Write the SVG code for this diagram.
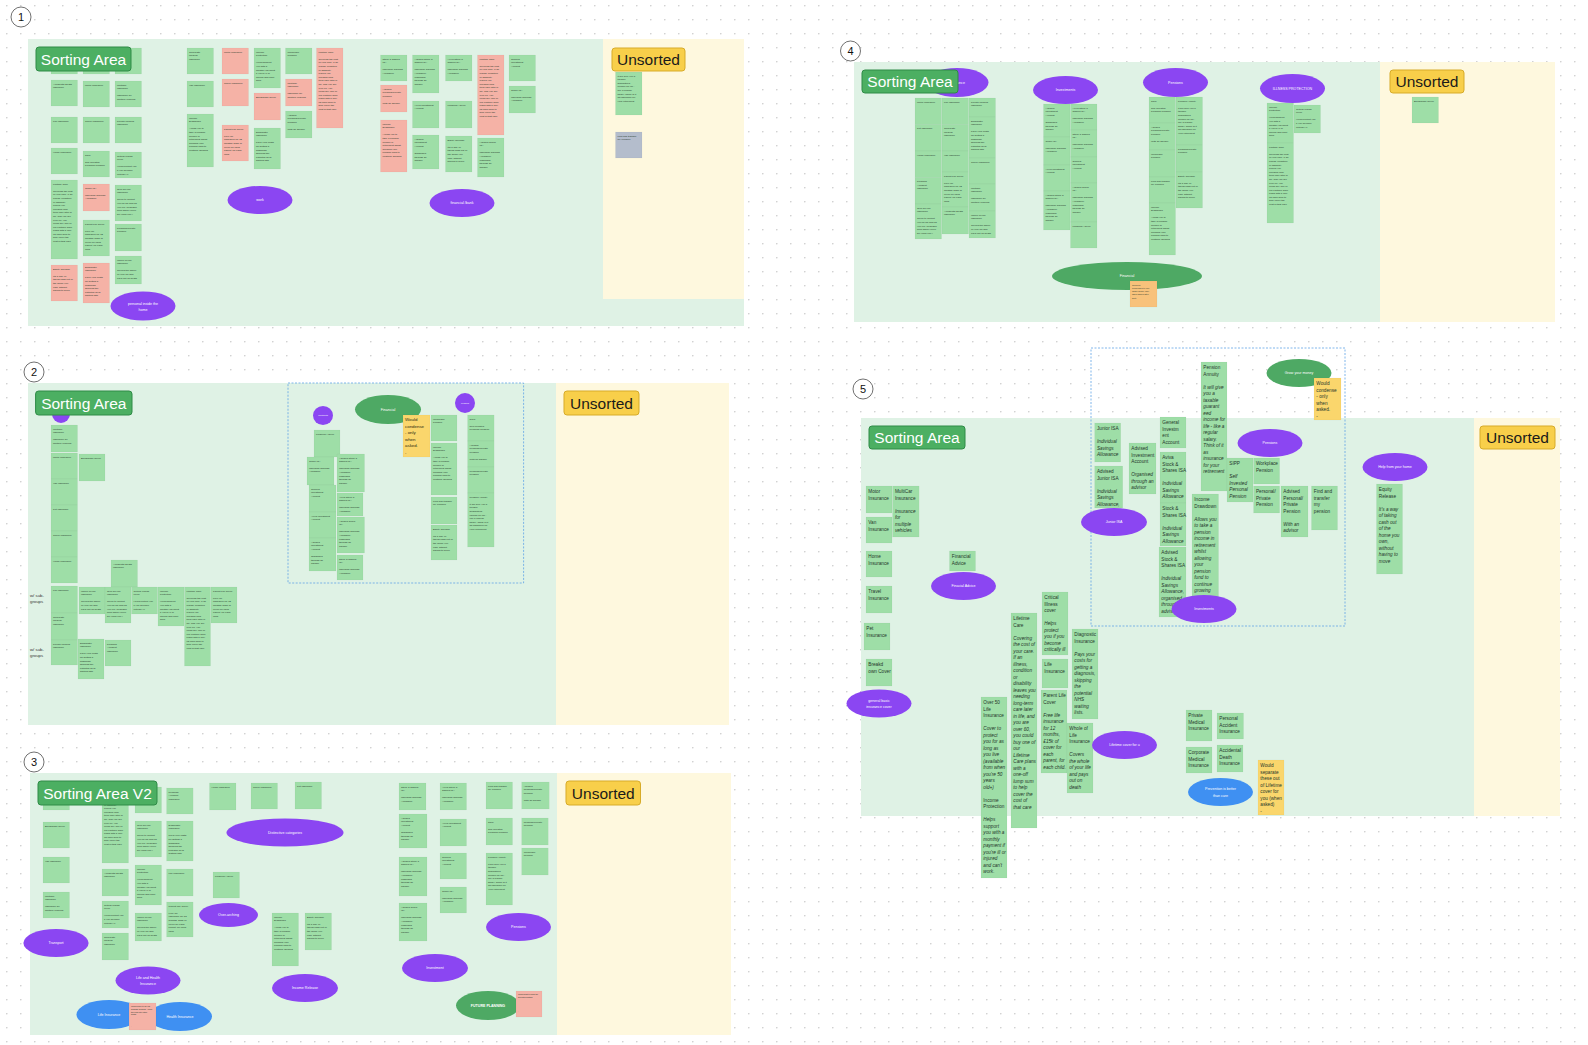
<svg xmlns="http://www.w3.org/2000/svg" width="1588" height="1045" viewBox="0 0 1588 1045">
<defs>
<pattern id="dots" x="6" y="5" width="14" height="14" patternUnits="userSpaceOnUse"><circle cx="0.8" cy="0.8" r="0.75" fill="#c4c4c4"/></pattern>
<style>
.bgG{fill:#dff2e5}.bgY{fill:#fef8de}
.n{fill:#9edea7}.p{fill:#f5b2a6}.yw{fill:#fad66c}.o{fill:#f8c27b}.gr{fill:#b4bdcc}
rect.n,rect.p,rect.yw,rect.o,rect.gr{stroke:#000;stroke-opacity:0.06;stroke-width:0.4}
.t{font-family:"Liberation Sans",Arial,sans-serif;font-size:2.5px;fill:#24352a}
.t5{font-family:"Liberation Sans",Arial,sans-serif;font-size:4.7px;fill:#24352a}
.ty{font-family:"Liberation Sans",Arial,sans-serif;font-size:4.4px;fill:#2a2a10}
.i{font-style:italic}
.pe{fill:#8b46f2}.be{fill:#3f90f2}.ge{fill:#4ea964}
.el{font-family:"Liberation Sans",Arial,sans-serif;font-size:3.6px;fill:#ffffff;text-anchor:middle}
.lab{fill:#4caf62;stroke:#2e8b46;stroke-width:1}
.uns{fill:#f8cf4a;stroke:#d7ab28;stroke-width:1}
.labt{font-family:"Liberation Sans",Arial,sans-serif;font-size:15.5px;fill:#ffffff;text-anchor:middle}
.unst{font-family:"Liberation Sans",Arial,sans-serif;font-size:15.5px;fill:#1a1a1a;text-anchor:middle}
.num circle{fill:#ffffff;stroke:#333333;stroke-width:0.7}
.num text{font-family:"Liberation Sans",Arial,sans-serif;font-size:11px;fill:#111111;text-anchor:middle}
.dash{fill:none;stroke:#5fa3e6;stroke-width:0.8;stroke-dasharray:2 1.5}
.sub{font-family:"Liberation Sans",Arial,sans-serif;font-size:4.3px;fill:#333333}
</style>
</defs>
<rect width="1588" height="1045" fill="#ffffff"/>
<rect width="1588" height="1045" fill="url(#dots)"/>
<g id="connectors"/>

<!-- ================= BOARD 1 ================= -->
<g id="board1">
<rect class="bgG" x="28" y="39" width="716" height="287"/>
<rect class="bgY" x="603" y="39" width="141" height="260"/>
<g class="num" id="b1-num"><circle cx="21" cy="17" r="10"/><text x="21" y="21">1</text></g>

<g id="b1-a1" transform="translate(51,48)"><rect class="n" width="26.5" height="26"/></g>
<g id="b1-a2" transform="translate(83,48)"><rect class="n" width="26.5" height="26"/></g>
<g id="b1-a3" transform="translate(115,48)"><rect class="n" width="26.5" height="26"/></g>
<g id="b1-a4" transform="translate(51,80)"><rect class="n" width="26.5" height="26"/><text class="t"><tspan x="2" y="4.5">Accidental Death</tspan><tspan x="2" dy="3.6">Insurance</tspan></text></g>
<g id="b1-a5" transform="translate(83,81)"><rect class="n" width="26.5" height="26"/><text class="t"><tspan x="2" y="4.5">Motor Insurance</tspan></text></g>
<g id="b1-a6" transform="translate(115,81)"><rect class="n" width="26.5" height="26"/><text class="t"><tspan x="2" y="4.5">MultiCar</tspan><tspan x="2" dy="3.6">Insurance</tspan><tspan x="2" dy="7.2">Insurance for</tspan><tspan x="2" dy="3.6">multiple vehicles</tspan></text></g>
<g id="b1-a7" transform="translate(51,117)"><rect class="n" width="26.5" height="26"/><text class="t"><tspan x="2" y="4.5">Life Insurance</tspan></text></g>
<g id="b1-a8" transform="translate(83,117)"><rect class="n" width="26.5" height="26"/><text class="t"><tspan x="2" y="4.5">Travel Insurance</tspan></text></g>
<g id="b1-a9" transform="translate(115,117)"><rect class="n" width="26.5" height="26"/><text class="t"><tspan x="2" y="4.5">Private Medical</tspan><tspan x="2" dy="3.6">Insurance</tspan></text></g>
<g id="b1-a10" transform="translate(51,148)"><rect class="n" width="26.5" height="26"/><text class="t"><tspan x="2" y="4.5">Home Insurance</tspan></text></g>
<g id="b1-a11" transform="translate(83,151)"><rect class="n" width="26.5" height="26"/><text class="t"><tspan x="2" y="4.5">SIPP</tspan><tspan x="2" dy="7.2">Self Invested</tspan><tspan x="2" dy="3.6">Personal Pension</tspan></text></g>
<g id="b1-a12" transform="translate(115,152)"><rect class="n" width="26.5" height="26"/><text class="t"><tspan x="2" y="4.5">Critical Illness</tspan><tspan x="2" dy="3.6">cover</tspan><tspan x="2" dy="7.2">Helps protect you</tspan><tspan x="2" dy="3.6">if you become</tspan><tspan x="2" dy="3.6">critically ill</tspan></text></g>
<g id="b1-a13" transform="translate(51,180)"><rect class="n" width="26.5" height="79"/><text class="t"><tspan x="2" y="4.5">Lifetime Care</tspan><tspan x="2" dy="7.2">Covering the cost</tspan><tspan x="2" dy="3.6">of your care. If an</tspan><tspan x="2" dy="3.6">illness, condition</tspan><tspan x="2" dy="3.6">or disability</tspan><tspan x="2" dy="3.6">leaves you</tspan><tspan x="2" dy="3.6">needing long-</tspan><tspan x="2" dy="3.6">term care later in</tspan><tspan x="2" dy="3.6">life, and you are</tspan><tspan x="2" dy="3.6">over 60, you</tspan><tspan x="2" dy="3.6">could buy one of</tspan><tspan x="2" dy="3.6">our Lifetime Care</tspan><tspan x="2" dy="3.6">plans with a one-</tspan><tspan x="2" dy="3.6">off lump sum to</tspan><tspan x="2" dy="3.6">help cover the</tspan><tspan x="2" dy="3.6">cost of that care</tspan></text></g>
<g id="b1-a14" transform="translate(83,184)"><rect class="p" width="26.5" height="27"/><text class="t"><tspan x="2" y="4.5">Junior ISA</tspan><tspan x="2" dy="7.2">Individual Savings</tspan><tspan x="2" dy="3.6">Allowance</tspan></text></g>
<g id="b1-a15" transform="translate(115,185)"><rect class="n" width="26.5" height="36"/><text class="t"><tspan x="2" y="4.5">Over 50 Life</tspan><tspan x="2" dy="3.6">Insurance</tspan><tspan x="2" dy="7.2">Cover to protect</tspan><tspan x="2" dy="3.6">you for as long as</tspan><tspan x="2" dy="3.6">you live (available</tspan><tspan x="2" dy="3.6">from when you're</tspan><tspan x="2" dy="3.6">50 years old+)</tspan></text></g>
<g id="b1-a16" transform="translate(83,220)"><rect class="n" width="26.5" height="36"/><text class="t"><tspan x="2" y="4.5">Parent Life Cover</tspan><tspan x="2" dy="7.2">Free life</tspan><tspan x="2" dy="3.6">insurance for 12</tspan><tspan x="2" dy="3.6">months, £15k of</tspan><tspan x="2" dy="3.6">cover for each</tspan><tspan x="2" dy="3.6">parent, for each</tspan><tspan x="2" dy="3.6">child</tspan></text></g>
<g id="b1-a17" transform="translate(115,224)"><rect class="n" width="26.5" height="27"/><text class="t"><tspan x="2" y="4.5">Personal/Private</tspan><tspan x="2" dy="3.6">Pension</tspan></text></g>
<g id="b1-a18" transform="translate(115,256)"><rect class="n" width="26.5" height="28"/><text class="t"><tspan x="2" y="4.5">Whole of Life</tspan><tspan x="2" dy="3.6">Insurance</tspan><tspan x="2" dy="7.2">Covers the whole</tspan><tspan x="2" dy="3.6">of your life and</tspan><tspan x="2" dy="3.6">pays out on death</tspan></text></g>
<g id="b1-a19" transform="translate(51,265)"><rect class="p" width="26.5" height="36"/><text class="t"><tspan x="2" y="4.5">Equity Release</tspan><tspan x="2" dy="7.2">It's a way of</tspan><tspan x="2" dy="3.6">taking cash out of</tspan><tspan x="2" dy="3.6">the home you</tspan><tspan x="2" dy="3.6">own, without</tspan><tspan x="2" dy="3.6">having to move</tspan></text></g>
<g id="b1-a20" transform="translate(83,263)"><rect class="p" width="26.5" height="40"/><text class="t"><tspan x="2" y="4.5">Diagnostic</tspan><tspan x="2" dy="3.6">Insurance</tspan><tspan x="2" dy="7.2">Pays your costs</tspan><tspan x="2" dy="3.6">for getting a</tspan><tspan x="2" dy="3.6">diagnosis,</tspan><tspan x="2" dy="3.6">skipping the</tspan><tspan x="2" dy="3.6">potential NHS</tspan><tspan x="2" dy="3.6">waiting lists.</tspan></text></g>

<g id="b1-b1" transform="translate(187,48)"><rect class="n" width="26.5" height="26"/><text class="t"><tspan x="2" y="4.5">Corporate</tspan><tspan x="2" dy="3.6">Medical</tspan><tspan x="2" dy="3.6">Insurance</tspan></text></g>
<g id="b1-b2" transform="translate(187,81)"><rect class="n" width="26.5" height="26"/><text class="t"><tspan x="2" y="4.5">Van Insurance</tspan></text></g>
<g id="b1-b3" transform="translate(187,114)"><rect class="n" width="26.5" height="53"/><text class="t"><tspan x="2" y="4.5">Income</tspan><tspan x="2" dy="3.6">Drawdown</tspan><tspan x="2" dy="7.2">Allows you to</tspan><tspan x="2" dy="3.6">take a pension</tspan><tspan x="2" dy="3.6">income in</tspan><tspan x="2" dy="3.6">retirement whilst</tspan><tspan x="2" dy="3.6">allowing your</tspan><tspan x="2" dy="3.6">pension fund to</tspan><tspan x="2" dy="3.6">continue growing</tspan></text></g>
<g id="b1-b4" transform="translate(222,48)"><rect class="p" width="26.5" height="26"/><text class="t"><tspan x="2" y="4.5">Motor Insurance</tspan></text></g>
<g id="b1-b5" transform="translate(222,79)"><rect class="p" width="26.5" height="27"/><text class="t"><tspan x="2" y="4.5">Travel Insurance</tspan></text></g>
<g id="b1-b6" transform="translate(222,125)"><rect class="p" width="26.5" height="36"/><text class="t"><tspan x="2" y="4.5">Parent Life Cover</tspan><tspan x="2" dy="7.2">Free life</tspan><tspan x="2" dy="3.6">insurance for 12</tspan><tspan x="2" dy="3.6">months, £15k of</tspan><tspan x="2" dy="3.6">cover for each</tspan><tspan x="2" dy="3.6">parent, for each</tspan><tspan x="2" dy="3.6">child</tspan></text></g>
<g id="b1-b7" transform="translate(254,48)"><rect class="n" width="26.5" height="40"/><text class="t"><tspan x="2" y="4.5">Income</tspan><tspan x="2" dy="3.6">Protection</tspan><tspan x="2" dy="7.2">Helps support</tspan><tspan x="2" dy="3.6">you with a</tspan><tspan x="2" dy="3.6">monthly payment</tspan><tspan x="2" dy="3.6">if you're ill or</tspan><tspan x="2" dy="3.6">injured and can't</tspan><tspan x="2" dy="3.6">work</tspan></text></g>
<g id="b1-b8" transform="translate(254,93)"><rect class="p" width="26.5" height="27"/><text class="t"><tspan x="2" y="4.5">Breakdown Cover</tspan></text></g>
<g id="b1-b9" transform="translate(254,128)"><rect class="n" width="26.5" height="41"/><text class="t"><tspan x="2" y="4.5">Diagnostic</tspan><tspan x="2" dy="3.6">Insurance</tspan><tspan x="2" dy="7.2">Pays your costs</tspan><tspan x="2" dy="3.6">for getting a</tspan><tspan x="2" dy="3.6">diagnosis,</tspan><tspan x="2" dy="3.6">skipping the</tspan><tspan x="2" dy="3.6">potential NHS</tspan><tspan x="2" dy="3.6">waiting lists</tspan></text></g>
<g id="b1-b10" transform="translate(285.5,48)"><rect class="n" width="26.5" height="26"/><text class="t"><tspan x="2" y="4.5">Workplace</tspan><tspan x="2" dy="3.6">Pension</tspan></text></g>
<g id="b1-b11" transform="translate(285.5,79)"><rect class="p" width="26.5" height="27"/><text class="t"><tspan x="2" y="4.5">MultiCar</tspan><tspan x="2" dy="3.6">Insurance</tspan><tspan x="2" dy="7.2">Insurance for</tspan><tspan x="2" dy="3.6">multiple vehicles</tspan></text></g>
<g id="b1-b12" transform="translate(285.5,111)"><rect class="n" width="26.5" height="27"/><text class="t"><tspan x="2" y="4.5">Advised</tspan><tspan x="2" dy="3.6">Personal/Private</tspan><tspan x="2" dy="3.6">Pension</tspan><tspan x="2" dy="7.2">With an advisor</tspan></text></g>
<g id="b1-b13" transform="translate(316.5,48)"><rect class="p" width="26.5" height="80"/><text class="t"><tspan x="2" y="4.5">Lifetime Care</tspan><tspan x="2" dy="7.2">Covering the cost</tspan><tspan x="2" dy="3.6">of your care. If an</tspan><tspan x="2" dy="3.6">illness, condition</tspan><tspan x="2" dy="3.6">or disability</tspan><tspan x="2" dy="3.6">leaves you</tspan><tspan x="2" dy="3.6">needing long-</tspan><tspan x="2" dy="3.6">term care later in</tspan><tspan x="2" dy="3.6">life, and you are</tspan><tspan x="2" dy="3.6">over 60, you</tspan><tspan x="2" dy="3.6">could buy one of</tspan><tspan x="2" dy="3.6">our Lifetime Care</tspan><tspan x="2" dy="3.6">plans with a one-</tspan><tspan x="2" dy="3.6">off lump sum to</tspan><tspan x="2" dy="3.6">help cover the</tspan><tspan x="2" dy="3.6">cost of that care</tspan></text></g>

<g id="b1-c1" transform="translate(380.5,55)"><rect class="n" width="26.5" height="26"/><text class="t"><tspan x="2" y="4.5">Stock &amp; Shares</tspan><tspan x="2" dy="3.6">ISA</tspan><tspan x="2" dy="7.2">Individual Savings</tspan><tspan x="2" dy="3.6">Allowance</tspan></text></g>
<g id="b1-c2" transform="translate(380.5,85)"><rect class="p" width="26.5" height="27"/><text class="t"><tspan x="2" y="4.5">Advised</tspan><tspan x="2" dy="3.6">Personal/Private</tspan><tspan x="2" dy="3.6">Pension</tspan><tspan x="2" dy="7.2">With an advisor</tspan></text></g>
<g id="b1-c3" transform="translate(380.5,120)"><rect class="p" width="26.5" height="52"/><text class="t"><tspan x="2" y="4.5">Income</tspan><tspan x="2" dy="3.6">Drawdown</tspan><tspan x="2" dy="7.2">Allows you to</tspan><tspan x="2" dy="3.6">take a pension</tspan><tspan x="2" dy="3.6">income in</tspan><tspan x="2" dy="3.6">retirement whilst</tspan><tspan x="2" dy="3.6">allowing your</tspan><tspan x="2" dy="3.6">pension fund to</tspan><tspan x="2" dy="3.6">continue growing</tspan></text></g>
<g id="b1-c4" transform="translate(412.5,55)"><rect class="n" width="26.5" height="38"/><text class="t"><tspan x="2" y="4.5">Advised Stock &amp;</tspan><tspan x="2" dy="3.6">Shares ISA</tspan><tspan x="2" dy="7.2">Individual Savings</tspan><tspan x="2" dy="3.6">Allowance,</tspan><tspan x="2" dy="3.6">organised</tspan><tspan x="2" dy="3.6">through an</tspan><tspan x="2" dy="3.6">advisor</tspan></text></g>
<g id="b1-c5" transform="translate(412.5,101)"><rect class="n" width="26.5" height="27"/><text class="t"><tspan x="2" y="4.5">Aviva Investment</tspan><tspan x="2" dy="3.6">Account</tspan></text></g>
<g id="b1-c6" transform="translate(412.5,135)"><rect class="n" width="26.5" height="34"/><text class="t"><tspan x="2" y="4.5">Advised</tspan><tspan x="2" dy="3.6">Investment</tspan><tspan x="2" dy="3.6">Account</tspan><tspan x="2" dy="7.2">Organised</tspan><tspan x="2" dy="3.6">through an</tspan><tspan x="2" dy="3.6">advisor</tspan></text></g>
<g id="b1-c7" transform="translate(445.5,55)"><rect class="n" width="26.5" height="26"/><text class="t"><tspan x="2" y="4.5">Aviva Stock &amp;</tspan><tspan x="2" dy="3.6">Shares ISA</tspan><tspan x="2" dy="7.2">Individual Savings</tspan><tspan x="2" dy="3.6">Allowance</tspan></text></g>
<g id="b1-c8" transform="translate(445.5,101)"><rect class="n" width="26.5" height="27"/><text class="t"><tspan x="2" y="4.5">Financial Advice</tspan></text></g>
<g id="b1-c9" transform="translate(445.5,136)"><rect class="n" width="26.5" height="36"/><text class="t"><tspan x="2" y="4.5">Equity Release</tspan><tspan x="2" dy="7.2">It's a way of</tspan><tspan x="2" dy="3.6">taking cash out of</tspan><tspan x="2" dy="3.6">the home you</tspan><tspan x="2" dy="3.6">own, without</tspan><tspan x="2" dy="3.6">having to move</tspan></text></g>
<g id="b1-c10" transform="translate(477.5,55)"><rect class="p" width="26.5" height="80"/><text class="t"><tspan x="2" y="4.5">Lifetime Care</tspan><tspan x="2" dy="7.2">Covering the cost</tspan><tspan x="2" dy="3.6">of your care. If an</tspan><tspan x="2" dy="3.6">illness, condition</tspan><tspan x="2" dy="3.6">or disability</tspan><tspan x="2" dy="3.6">leaves you</tspan><tspan x="2" dy="3.6">needing long-</tspan><tspan x="2" dy="3.6">term care later in</tspan><tspan x="2" dy="3.6">life, and you are</tspan><tspan x="2" dy="3.6">over 60, you</tspan><tspan x="2" dy="3.6">could buy one of</tspan><tspan x="2" dy="3.6">our Lifetime Care</tspan><tspan x="2" dy="3.6">plans with a one-</tspan><tspan x="2" dy="3.6">off lump sum to</tspan><tspan x="2" dy="3.6">help cover the</tspan><tspan x="2" dy="3.6">cost of that care</tspan></text></g>
<g id="b1-c11" transform="translate(477.5,138)"><rect class="n" width="26.5" height="39"/><text class="t"><tspan x="2" y="4.5">Advised Junior</tspan><tspan x="2" dy="3.6">ISA</tspan><tspan x="2" dy="7.2">Individual Savings</tspan><tspan x="2" dy="3.6">Allowance,</tspan><tspan x="2" dy="3.6">organised</tspan><tspan x="2" dy="3.6">through an</tspan><tspan x="2" dy="3.6">advisor</tspan></text></g>
<g id="b1-c12" transform="translate(509,55)"><rect class="n" width="26.5" height="26"/><text class="t"><tspan x="2" y="4.5">General</tspan><tspan x="2" dy="3.6">Investment</tspan><tspan x="2" dy="3.6">Account</tspan></text></g>
<g id="b1-c13" transform="translate(509,86)"><rect class="n" width="26.5" height="27"/><text class="t"><tspan x="2" y="4.5">Junior ISA</tspan><tspan x="2" dy="7.2">Individual Savings</tspan><tspan x="2" dy="3.6">Allowance</tspan></text></g>

<g id="b1-u1" transform="translate(615.5,72)"><rect class="n" width="26.5" height="43"/><text class="t"><tspan x="2" y="4.5">It will give you a</tspan><tspan x="2" dy="3.6">taxable</tspan><tspan x="2" dy="3.6">guaranteed</tspan><tspan x="2" dy="3.6">income for life -</tspan><tspan x="2" dy="3.6">like a regular</tspan><tspan x="2" dy="3.6">salary. Think of it</tspan><tspan x="2" dy="3.6">as insurance for</tspan><tspan x="2" dy="3.6">your retirement</tspan></text></g>
<g id="b1-u2" transform="translate(615.5,132)"><rect class="gr" width="26.5" height="26"/><text class="t"><tspan x="2" y="4.5">Find and transfer</tspan><tspan x="2" dy="3.6">my pension</tspan></text></g>

<g id="b1-e1"><ellipse class="pe" cx="260" cy="200" rx="32.5" ry="14"/><text class="el" x="260" y="201.3">work</text></g>
<g id="b1-e2"><ellipse class="pe" cx="462" cy="203" rx="32.5" ry="14"/><text class="el" x="462" y="204.3">financial /bank</text></g>
<g id="b1-e3"><ellipse class="pe" cx="143" cy="306" rx="32.5" ry="14.5"/><text class="el" x="143" y="304.5">personal inside the</text><text class="el" x="143" y="310.5">home</text></g>

<g id="b1-label"><rect class="lab" x="36" y="47" width="95" height="24" rx="3"/><text class="labt" x="83.5" y="64.5">Sorting Area</text></g>
<g id="b1-unsorted"><rect class="uns" x="612" y="48" width="73" height="23" rx="3"/><text class="unst" x="648.5" y="65">Unsorted</text></g>
</g>

<!-- ================= BOARD 2 ================= -->
<g id="board2">
<rect class="bgG" x="28" y="383" width="528" height="342"/>
<rect class="bgY" x="556" y="383" width="173" height="342"/>
<g class="num" id="b2-num"><circle cx="34" cy="372" r="10"/><text x="34" y="376">2</text></g>
<rect class="dash" x="288" y="383" width="235.6" height="200"/>
<g id="b2-e0"><ellipse class="pe" cx="61" cy="414" rx="9" ry="9"/></g>
<g id="b2-a1" transform="translate(51,425)"><rect class="n" width="26.5" height="27"/><text class="t"><tspan x="2" y="4.5">MultiCar</tspan><tspan x="2" dy="3.6">Insurance</tspan><tspan x="2" dy="7.2">Insurance for</tspan><tspan x="2" dy="3.6">multiple vehicles</tspan></text></g>
<g id="b2-a2" transform="translate(51,453)"><rect class="n" width="26.5" height="26"/><text class="t"><tspan x="2" y="4.5">Motor Insurance</tspan></text></g>
<g id="b2-a3" transform="translate(51,479)"><rect class="n" width="26.5" height="26"/><text class="t"><tspan x="2" y="4.5">Van Insurance</tspan></text></g>
<g id="b2-a4" transform="translate(51,505)"><rect class="n" width="26.5" height="26"/><text class="t"><tspan x="2" y="4.5">Pet Insurance</tspan></text></g>
<g id="b2-a5" transform="translate(51,531)"><rect class="n" width="26.5" height="26"/><text class="t"><tspan x="2" y="4.5">Travel Insurance</tspan></text></g>
<g id="b2-a6" transform="translate(51,557)"><rect class="n" width="26.5" height="26"/><text class="t"><tspan x="2" y="4.5">Home Insurance</tspan></text></g>
<g id="b2-a7" transform="translate(79,454)"><rect class="n" width="26" height="27"/><text class="t"><tspan x="2" y="4.5">Breakdown Cover</tspan></text></g>
<g id="b2-a8" transform="translate(111,560)"><rect class="n" width="26.5" height="27"/><text class="t"><tspan x="2" y="4.5">Accidental Death</tspan><tspan x="2" dy="3.6">Insurance</tspan></text></g>
<g id="b2-a9" transform="translate(51,586)"><rect class="n" width="26.5" height="27"/><text class="t"><tspan x="2" y="4.5">Life Insurance</tspan></text></g>
<g id="b2-a10" transform="translate(51,613)"><rect class="n" width="26.5" height="27"/><text class="t"><tspan x="2" y="4.5">Corporate</tspan><tspan x="2" dy="3.6">Medical</tspan><tspan x="2" dy="3.6">Insurance</tspan></text></g>
<g id="b2-a11" transform="translate(51,640)"><rect class="n" width="26.5" height="25"/><text class="t"><tspan x="2" y="4.5">Private Medical</tspan><tspan x="2" dy="3.6">Insurance</tspan></text></g>
<g id="b2-a12" transform="translate(79,587)"><rect class="n" width="26" height="27"/><text class="t"><tspan x="2" y="4.5">Whole of Life</tspan><tspan x="2" dy="3.6">Insurance</tspan><tspan x="2" dy="7.2">Covers the whole</tspan><tspan x="2" dy="3.6">of your life and</tspan><tspan x="2" dy="3.6">pays out on death</tspan></text></g>
<g id="b2-a13" transform="translate(105,587)"><rect class="n" width="26" height="36"/><text class="t"><tspan x="2" y="4.5">Over 50 Life</tspan><tspan x="2" dy="3.6">Insurance</tspan><tspan x="2" dy="7.2">Cover to protect</tspan><tspan x="2" dy="3.6">you for as long as</tspan><tspan x="2" dy="3.6">you live (available</tspan><tspan x="2" dy="3.6">from when you're</tspan><tspan x="2" dy="3.6">50 years old+)</tspan></text></g>
<g id="b2-a14" transform="translate(131.5,587)"><rect class="n" width="26" height="27"/><text class="t"><tspan x="2" y="4.5">Critical Illness</tspan><tspan x="2" dy="3.6">cover</tspan><tspan x="2" dy="7.2">Helps protect you</tspan><tspan x="2" dy="3.6">if you become</tspan><tspan x="2" dy="3.6">critically ill</tspan></text></g>
<g id="b2-a15" transform="translate(158,587)"><rect class="n" width="26" height="39"/><text class="t"><tspan x="2" y="4.5">Income</tspan><tspan x="2" dy="3.6">Protection</tspan><tspan x="2" dy="7.2">Helps support</tspan><tspan x="2" dy="3.6">you with a</tspan><tspan x="2" dy="3.6">monthly payment</tspan><tspan x="2" dy="3.6">if you're ill or</tspan><tspan x="2" dy="3.6">injured and can't</tspan><tspan x="2" dy="3.6">work</tspan></text></g>
<g id="b2-a16" transform="translate(184.5,587)"><rect class="n" width="26" height="79"/><text class="t"><tspan x="2" y="4.5">Lifetime Care</tspan><tspan x="2" dy="7.2">Covering the cost</tspan><tspan x="2" dy="3.6">of your care. If an</tspan><tspan x="2" dy="3.6">illness, condition</tspan><tspan x="2" dy="3.6">or disability</tspan><tspan x="2" dy="3.6">leaves you</tspan><tspan x="2" dy="3.6">needing long-</tspan><tspan x="2" dy="3.6">term care later in</tspan><tspan x="2" dy="3.6">life, and you are</tspan><tspan x="2" dy="3.6">over 60, you</tspan><tspan x="2" dy="3.6">could buy one of</tspan><tspan x="2" dy="3.6">our Lifetime Care</tspan><tspan x="2" dy="3.6">plans with a one-</tspan><tspan x="2" dy="3.6">off lump sum to</tspan><tspan x="2" dy="3.6">help cover the</tspan><tspan x="2" dy="3.6">cost of that care</tspan></text></g>
<g id="b2-a17" transform="translate(211,587)"><rect class="n" width="26" height="36"/><text class="t"><tspan x="2" y="4.5">Parent Life Cover</tspan><tspan x="2" dy="7.2">Free life</tspan><tspan x="2" dy="3.6">insurance for 12</tspan><tspan x="2" dy="3.6">months, £15k of</tspan><tspan x="2" dy="3.6">cover for each</tspan><tspan x="2" dy="3.6">parent, for each</tspan><tspan x="2" dy="3.6">child</tspan></text></g>
<g id="b2-a18" transform="translate(78,639)"><rect class="n" width="26" height="40"/><text class="t"><tspan x="2" y="4.5">Diagnostic</tspan><tspan x="2" dy="3.6">Insurance</tspan><tspan x="2" dy="7.2">Pays your costs</tspan><tspan x="2" dy="3.6">for getting a</tspan><tspan x="2" dy="3.6">diagnosis,</tspan><tspan x="2" dy="3.6">skipping the</tspan><tspan x="2" dy="3.6">potential NHS</tspan><tspan x="2" dy="3.6">waiting lists.</tspan></text></g>
<g id="b2-a19" transform="translate(105,640)"><rect class="n" width="26" height="26"/><text class="t"><tspan x="2" y="4.5">Personal</tspan><tspan x="2" dy="3.6">Accident</tspan><tspan x="2" dy="3.6">Insurance</tspan></text></g>
<g id="b2-sub1"><text class="sub"><tspan x="30" y="597">w/ sub-</tspan><tspan x="30" y="603">groups</tspan></text></g>
<g id="b2-sub2"><text class="sub"><tspan x="30" y="650.5">w/ sub-</tspan><tspan x="30" y="656.5">groups</tspan></text></g>

<g id="b2-e1"><ellipse class="pe" cx="323" cy="415.5" rx="10" ry="9.5"/><text class="el" style="font-size:1.8px" x="323" y="416.2">Investments</text></g>
<g id="b2-e2"><ellipse class="ge" cx="388" cy="409.5" rx="33" ry="14.5"/><text class="el" x="388" y="410.8">Financial</text></g>
<g id="b2-e3"><ellipse class="pe" cx="465" cy="403" rx="10" ry="10"/><text class="el" style="font-size:1.9px" x="465" y="403.7">Pensions</text></g>
<g id="b2-y1" transform="translate(403,415)"><rect class="yw" width="27" height="42"/><text class="ty"><tspan x="2" y="6">Would</tspan><tspan x="2" dy="6.6">condense</tspan><tspan x="2" dy="6.6">- only</tspan><tspan x="2" dy="6.6">when</tspan><tspan x="2" dy="6.6">asked.</tspan><tspan x="2" dy="6.6">-</tspan></text></g>
<g id="b2-c1" transform="translate(431,415)"><rect class="n" width="26" height="26"/><text class="t"><tspan x="2" y="4.5">Workplace</tspan><tspan x="2" dy="3.6">Pension</tspan></text></g>
<g id="b2-c2" transform="translate(431,443)"><rect class="n" width="26" height="52"/><text class="t"><tspan x="2" y="4.5">Income</tspan><tspan x="2" dy="3.6">Drawdown</tspan><tspan x="2" dy="7.2">Allows you to</tspan><tspan x="2" dy="3.6">take a pension</tspan><tspan x="2" dy="3.6">income in</tspan><tspan x="2" dy="3.6">retirement whilst</tspan><tspan x="2" dy="3.6">allowing your</tspan><tspan x="2" dy="3.6">pension fund to</tspan><tspan x="2" dy="3.6">continue growing</tspan></text></g>
<g id="b2-c3" transform="translate(431,497)"><rect class="n" width="26" height="27"/><text class="t"><tspan x="2" y="4.5">Find and transfer</tspan><tspan x="2" dy="3.6">my pension</tspan></text></g>
<g id="b2-c4" transform="translate(431,525)"><rect class="n" width="26" height="35"/><text class="t"><tspan x="2" y="4.5">Equity Release</tspan><tspan x="2" dy="7.2">It's a way of</tspan><tspan x="2" dy="3.6">taking cash out of</tspan><tspan x="2" dy="3.6">the home you</tspan><tspan x="2" dy="3.6">own, without</tspan><tspan x="2" dy="3.6">having to move</tspan></text></g>
<g id="b2-d1" transform="translate(467.6,415)"><rect class="n" width="26.5" height="26"/><text class="t"><tspan x="2" y="4.5">SIPP</tspan><tspan x="2" dy="7.2">Self Invested</tspan><tspan x="2" dy="3.6">Personal Pension</tspan></text></g>
<g id="b2-d2" transform="translate(467.6,441)"><rect class="n" width="26.5" height="26"/><text class="t"><tspan x="2" y="4.5">Advised</tspan><tspan x="2" dy="3.6">Personal/Private</tspan><tspan x="2" dy="3.6">Pension</tspan><tspan x="2" dy="7.2">With an advisor</tspan></text></g>
<g id="b2-d3" transform="translate(467.6,467)"><rect class="n" width="26.5" height="26"/><text class="t"><tspan x="2" y="4.5">Personal/Private</tspan><tspan x="2" dy="3.6">Pension</tspan></text></g>
<g id="b2-d4" transform="translate(467.6,493)"><rect class="n" width="26.5" height="54"/><text class="t"><tspan x="2" y="4.5">Pension Annuity</tspan><tspan x="2" dy="7.2">It will give you a</tspan><tspan x="2" dy="3.6">taxable</tspan><tspan x="2" dy="3.6">guaranteed</tspan><tspan x="2" dy="3.6">income for life -</tspan><tspan x="2" dy="3.6">like a regular</tspan><tspan x="2" dy="3.6">salary. Think of it</tspan><tspan x="2" dy="3.6">as insurance for</tspan><tspan x="2" dy="3.6">your retirement</tspan></text></g>
<g id="b2-f1" transform="translate(314,430)"><rect class="n" width="26" height="27"/><text class="t"><tspan x="2" y="4.5">Financial Advice</tspan></text></g>
<g id="b2-f2" transform="translate(307,457)"><rect class="n" width="27" height="28"/><text class="t"><tspan x="2" y="4.5">Junior ISA</tspan><tspan x="2" dy="7.2">Individual Savings</tspan><tspan x="2" dy="3.6">Allowance</tspan></text></g>
<g id="b2-f3" transform="translate(309,485)"><rect class="n" width="27" height="27"/><text class="t"><tspan x="2" y="4.5">General</tspan><tspan x="2" dy="3.6">Investment</tspan><tspan x="2" dy="3.6">Account</tspan></text></g>
<g id="b2-f4" transform="translate(309,512)"><rect class="n" width="27" height="26"/><text class="t"><tspan x="2" y="4.5">Aviva Investment</tspan><tspan x="2" dy="3.6">Account</tspan></text></g>
<g id="b2-f5" transform="translate(309,538)"><rect class="n" width="27" height="33"/><text class="t"><tspan x="2" y="4.5">Advised</tspan><tspan x="2" dy="3.6">Investment</tspan><tspan x="2" dy="3.6">Account</tspan><tspan x="2" dy="7.2">Organised</tspan><tspan x="2" dy="3.6">through an</tspan><tspan x="2" dy="3.6">advisor</tspan></text></g>
<g id="b2-g1" transform="translate(337,454)"><rect class="n" width="27.5" height="38"/><text class="t"><tspan x="2" y="4.5">Advised Stock &amp;</tspan><tspan x="2" dy="3.6">Shares ISA</tspan><tspan x="2" dy="7.2">Individual Savings</tspan><tspan x="2" dy="3.6">Allowance</tspan><tspan x="2" dy="3.6">organised</tspan><tspan x="2" dy="3.6">through an</tspan><tspan x="2" dy="3.6">advisor</tspan></text></g>
<g id="b2-g2" transform="translate(337,493)"><rect class="n" width="26" height="23"/><text class="t"><tspan x="2" y="4.5">Aviva Stock &amp;</tspan><tspan x="2" dy="3.6">Shares ISA</tspan><tspan x="2" dy="7.2">Individual Savings</tspan><tspan x="2" dy="3.6">Allowance</tspan></text></g>
<g id="b2-g3" transform="translate(337,517)"><rect class="n" width="27.5" height="36"/><text class="t"><tspan x="2" y="4.5">Advised Junior</tspan><tspan x="2" dy="3.6">ISA</tspan><tspan x="2" dy="7.2">Individual Savings</tspan><tspan x="2" dy="3.6">Allowance,</tspan><tspan x="2" dy="3.6">organised</tspan><tspan x="2" dy="3.6">through an</tspan><tspan x="2" dy="3.6">advisor</tspan></text></g>
<g id="b2-g4" transform="translate(337,555)"><rect class="n" width="26" height="25"/><text class="t"><tspan x="2" y="4.5">Stock &amp; Shares</tspan><tspan x="2" dy="3.6">ISA</tspan><tspan x="2" dy="7.2">Individual Savings</tspan><tspan x="2" dy="3.6">Allowance</tspan></text></g>

<g id="b2-label"><rect class="lab" x="35.6" y="391" width="96.4" height="24" rx="3"/><text class="labt" x="83.8" y="408.5">Sorting Area</text></g>
<g id="b2-unsorted"><rect class="uns" x="564" y="391" width="75" height="24" rx="3"/><text class="unst" x="601.5" y="408.5">Unsorted</text></g>
</g>

<!-- ================= BOARD 3 ================= -->
<g id="board3">
<rect class="bgG" x="30" y="773" width="527" height="262"/>
<rect class="bgY" x="557" y="773" width="174" height="262"/>
<g class="num" id="b3-num"><circle cx="34" cy="762" r="10"/><text x="34" y="766">3</text></g>
<g id="b3-a1" transform="translate(43,788)"><rect class="n" width="26.5" height="22"/></g>
<g id="b3-a2" transform="translate(102,783)"><rect class="n" width="26.5" height="80"/><text class="t"><tspan x="2" y="4.5">Lifetime Care</tspan><tspan x="2" dy="7.2">Covering the cost</tspan><tspan x="2" dy="3.6">of your care. If an</tspan><tspan x="2" dy="3.6">illness, condition</tspan><tspan x="2" dy="3.6">or disability</tspan><tspan x="2" dy="3.6">leaves you</tspan><tspan x="2" dy="3.6">needing long-</tspan><tspan x="2" dy="3.6">term care later in</tspan><tspan x="2" dy="3.6">life, and you are</tspan><tspan x="2" dy="3.6">over 60, you</tspan><tspan x="2" dy="3.6">could buy one of</tspan><tspan x="2" dy="3.6">our Lifetime Care</tspan><tspan x="2" dy="3.6">plans with a one-</tspan><tspan x="2" dy="3.6">off lump sum to</tspan><tspan x="2" dy="3.6">help cover the</tspan><tspan x="2" dy="3.6">cost of that care</tspan></text></g>
<g id="b3-a3" transform="translate(135,787)"><rect class="n" width="26.5" height="26"/></g>
<g id="b3-a4" transform="translate(166.6,788)"><rect class="n" width="26.5" height="26"/><text class="t"><tspan x="2" y="4.5">Personal</tspan><tspan x="2" dy="3.6">Accident</tspan><tspan x="2" dy="3.6">Insurance</tspan></text></g>
<g id="b3-a5" transform="translate(209.5,783)"><rect class="n" width="26.5" height="27"/><text class="t"><tspan x="2" y="4.5">Home Insurance</tspan></text></g>
<g id="b3-a6" transform="translate(251,783)"><rect class="n" width="26.5" height="26"/><text class="t"><tspan x="2" y="4.5">Travel Insurance</tspan></text></g>
<g id="b3-a7" transform="translate(295,782)"><rect class="n" width="26.5" height="27"/><text class="t"><tspan x="2" y="4.5">Pet Insurance</tspan></text></g>
<g id="b3-a8" transform="translate(43,822)"><rect class="n" width="26.5" height="26"/><text class="t"><tspan x="2" y="4.5">Breakdown Cover</tspan></text></g>
<g id="b3-a9" transform="translate(43,857)"><rect class="n" width="26.5" height="26"/><text class="t"><tspan x="2" y="4.5">Van Insurance</tspan></text></g>
<g id="b3-a10" transform="translate(43,892)"><rect class="n" width="26.5" height="26"/><text class="t"><tspan x="2" y="4.5">MultiCar</tspan><tspan x="2" dy="3.6">Insurance</tspan><tspan x="2" dy="7.2">Insurance for</tspan><tspan x="2" dy="3.6">multiple vehicles</tspan></text></g>
<g id="b3-a11" transform="translate(135,821)"><rect class="n" width="26.5" height="36"/><text class="t"><tspan x="2" y="4.5">Over 50 Life</tspan><tspan x="2" dy="3.6">Insurance</tspan><tspan x="2" dy="7.2">Cover to protect</tspan><tspan x="2" dy="3.6">you for as long as</tspan><tspan x="2" dy="3.6">you live (available</tspan><tspan x="2" dy="3.6">from when you're</tspan><tspan x="2" dy="3.6">50 years old+)</tspan></text></g>
<g id="b3-a12" transform="translate(166.6,821)"><rect class="n" width="26.5" height="40"/><text class="t"><tspan x="2" y="4.5">Diagnostic</tspan><tspan x="2" dy="3.6">Insurance</tspan><tspan x="2" dy="7.2">Pays your costs</tspan><tspan x="2" dy="3.6">for getting a</tspan><tspan x="2" dy="3.6">diagnosis,</tspan><tspan x="2" dy="3.6">skipping the</tspan><tspan x="2" dy="3.6">potential NHS</tspan><tspan x="2" dy="3.6">waiting lists.</tspan></text></g>
<g id="b3-a13" transform="translate(102,869)"><rect class="n" width="26.5" height="27"/><text class="t"><tspan x="2" y="4.5">Accidental Death</tspan><tspan x="2" dy="3.6">Insurance</tspan></text></g>
<g id="b3-a14" transform="translate(135,865)"><rect class="n" width="26.5" height="40"/><text class="t"><tspan x="2" y="4.5">Income</tspan><tspan x="2" dy="3.6">Protection</tspan><tspan x="2" dy="7.2">Helps support</tspan><tspan x="2" dy="3.6">you with a</tspan><tspan x="2" dy="3.6">monthly payment</tspan><tspan x="2" dy="3.6">if you're ill or</tspan><tspan x="2" dy="3.6">injured and can't</tspan><tspan x="2" dy="3.6">work</tspan></text></g>
<g id="b3-a15" transform="translate(166.6,869)"><rect class="n" width="26.5" height="27"/><text class="t"><tspan x="2" y="4.5">Life Insurance</tspan></text></g>
<g id="b3-a16" transform="translate(213,872)"><rect class="n" width="26.5" height="26"/><text class="t"><tspan x="2" y="4.5">Financial Advice</tspan></text></g>
<g id="b3-a17" transform="translate(102,901)"><rect class="n" width="26.5" height="27"/><text class="t"><tspan x="2" y="4.5">Critical Illness</tspan><tspan x="2" dy="3.6">cover</tspan><tspan x="2" dy="7.2">Helps protect you</tspan><tspan x="2" dy="3.6">if you become</tspan><tspan x="2" dy="3.6">critically ill</tspan></text></g>
<g id="b3-a18" transform="translate(135,913)"><rect class="n" width="26.5" height="28"/><text class="t"><tspan x="2" y="4.5">Whole of Life</tspan><tspan x="2" dy="3.6">Insurance</tspan><tspan x="2" dy="7.2">Covers the whole</tspan><tspan x="2" dy="3.6">of your life and</tspan><tspan x="2" dy="3.6">pays out on death</tspan></text></g>
<g id="b3-a19" transform="translate(166.6,902)"><rect class="n" width="26.5" height="35"/><text class="t"><tspan x="2" y="4.5">Parent Life Cover</tspan><tspan x="2" dy="7.2">Free life</tspan><tspan x="2" dy="3.6">insurance for 12</tspan><tspan x="2" dy="3.6">months, £15k of</tspan><tspan x="2" dy="3.6">cover for each</tspan><tspan x="2" dy="3.6">parent, for each</tspan><tspan x="2" dy="3.6">child</tspan></text></g>
<g id="b3-a20" transform="translate(102,933)"><rect class="n" width="26.5" height="27"/><text class="t"><tspan x="2" y="4.5">Corporate</tspan><tspan x="2" dy="3.6">Medical</tspan><tspan x="2" dy="3.6">Insurance</tspan></text></g>
<g id="b3-a21" transform="translate(272,913)"><rect class="n" width="26.5" height="53"/><text class="t"><tspan x="2" y="4.5">Income</tspan><tspan x="2" dy="3.6">Drawdown</tspan><tspan x="2" dy="7.2">Allows you to</tspan><tspan x="2" dy="3.6">take a pension</tspan><tspan x="2" dy="3.6">income in</tspan><tspan x="2" dy="3.6">retirement whilst</tspan><tspan x="2" dy="3.6">allowing your</tspan><tspan x="2" dy="3.6">pension fund to</tspan><tspan x="2" dy="3.6">continue growing</tspan></text></g>
<g id="b3-a22" transform="translate(305,913)"><rect class="n" width="26.5" height="37"/><text class="t"><tspan x="2" y="4.5">Equity Release</tspan><tspan x="2" dy="7.2">It's a way of</tspan><tspan x="2" dy="3.6">taking cash out of</tspan><tspan x="2" dy="3.6">the home you</tspan><tspan x="2" dy="3.6">own, without</tspan><tspan x="2" dy="3.6">having to move</tspan></text></g>

<g id="b3-b1" transform="translate(399,783)"><rect class="n" width="27" height="27"/><text class="t"><tspan x="2" y="4.5">Stock &amp; Shares</tspan><tspan x="2" dy="3.6">ISA</tspan><tspan x="2" dy="7.2">Individual Savings</tspan><tspan x="2" dy="3.6">Allowance</tspan></text></g>
<g id="b3-b2" transform="translate(440,783)"><rect class="n" width="26.5" height="27"/><text class="t"><tspan x="2" y="4.5">Aviva Stock &amp;</tspan><tspan x="2" dy="3.6">Shares ISA</tspan><tspan x="2" dy="7.2">Individual Savings</tspan><tspan x="2" dy="3.6">Allowance</tspan></text></g>
<g id="b3-b3" transform="translate(486,782)"><rect class="n" width="26.5" height="27"/><text class="t"><tspan x="2" y="4.5">Find and transfer</tspan><tspan x="2" dy="3.6">my pension</tspan></text></g>
<g id="b3-b4" transform="translate(521.7,782)"><rect class="n" width="27.5" height="27"/><text class="t"><tspan x="2" y="4.5">Advised</tspan><tspan x="2" dy="3.6">Personal/Private</tspan><tspan x="2" dy="3.6">Pension</tspan><tspan x="2" dy="7.2">With an advisor</tspan></text></g>
<g id="b3-b5" transform="translate(399,814)"><rect class="n" width="28" height="34"/><text class="t"><tspan x="2" y="4.5">Advised</tspan><tspan x="2" dy="3.6">Investment</tspan><tspan x="2" dy="3.6">Account</tspan><tspan x="2" dy="7.2">Organised</tspan><tspan x="2" dy="3.6">through an</tspan><tspan x="2" dy="3.6">advisor</tspan></text></g>
<g id="b3-b6" transform="translate(440,819)"><rect class="n" width="26.5" height="27"/><text class="t"><tspan x="2" y="4.5">Aviva Investment</tspan><tspan x="2" dy="3.6">Account</tspan></text></g>
<g id="b3-b7" transform="translate(486,818)"><rect class="n" width="26.5" height="27"/><text class="t"><tspan x="2" y="4.5">SIPP</tspan><tspan x="2" dy="7.2">Self Invested</tspan><tspan x="2" dy="3.6">Personal Pension</tspan></text></g>
<g id="b3-b8" transform="translate(521.7,818)"><rect class="n" width="26.5" height="27"/><text class="t"><tspan x="2" y="4.5">Personal/Private</tspan><tspan x="2" dy="3.6">Pension</tspan></text></g>
<g id="b3-b9" transform="translate(399,857)"><rect class="n" width="28" height="39"/><text class="t"><tspan x="2" y="4.5">Advised Stock &amp;</tspan><tspan x="2" dy="3.6">Shares ISA</tspan><tspan x="2" dy="7.2">Individual Savings</tspan><tspan x="2" dy="3.6">Allowance,</tspan><tspan x="2" dy="3.6">organised</tspan><tspan x="2" dy="3.6">through an</tspan><tspan x="2" dy="3.6">advisor</tspan></text></g>
<g id="b3-b10" transform="translate(440,853)"><rect class="n" width="26.5" height="26"/><text class="t"><tspan x="2" y="4.5">General</tspan><tspan x="2" dy="3.6">Investment</tspan><tspan x="2" dy="3.6">Account</tspan></text></g>
<g id="b3-b11" transform="translate(486,853)"><rect class="n" width="26.5" height="52"/><text class="t"><tspan x="2" y="4.5">Pension Annuity</tspan><tspan x="2" dy="7.2">It will give you a</tspan><tspan x="2" dy="3.6">taxable</tspan><tspan x="2" dy="3.6">guaranteed</tspan><tspan x="2" dy="3.6">income for life -</tspan><tspan x="2" dy="3.6">like a regular</tspan><tspan x="2" dy="3.6">salary. Think of it</tspan><tspan x="2" dy="3.6">as insurance for</tspan><tspan x="2" dy="3.6">your retirement</tspan></text></g>
<g id="b3-b12" transform="translate(521.7,848)"><rect class="n" width="26.5" height="27"/><text class="t"><tspan x="2" y="4.5">Workplace</tspan><tspan x="2" dy="3.6">Pension</tspan></text></g>
<g id="b3-b13" transform="translate(440,887)"><rect class="n" width="26.5" height="26"/><text class="t"><tspan x="2" y="4.5">Junior ISA</tspan><tspan x="2" dy="7.2">Individual Savings</tspan><tspan x="2" dy="3.6">Allowance</tspan></text></g>
<g id="b3-b14" transform="translate(399,903)"><rect class="n" width="28" height="38"/><text class="t"><tspan x="2" y="4.5">Advised Junior</tspan><tspan x="2" dy="3.6">ISA</tspan><tspan x="2" dy="7.2">Individual Savings</tspan><tspan x="2" dy="3.6">Allowance,</tspan><tspan x="2" dy="3.6">organised</tspan><tspan x="2" dy="3.6">through an</tspan><tspan x="2" dy="3.6">advisor</tspan></text></g>

<g id="b3-e1"><ellipse class="pe" cx="285" cy="832.5" rx="58.5" ry="14"/><text class="el" x="285" y="833.8">Distinctive categories</text></g>
<g id="b3-e2"><ellipse class="pe" cx="228.5" cy="915" rx="29.5" ry="12"/><text class="el" x="228.5" y="916.3">Over-arching</text></g>
<g id="b3-e3"><ellipse class="pe" cx="56" cy="943" rx="32.6" ry="14"/><text class="el" x="56" y="944.3">Transport</text></g>
<g id="b3-e4"><ellipse class="pe" cx="148" cy="980.5" rx="32.5" ry="14"/><text class="el" x="148" y="978.5">Life and Health</text><text class="el" x="148" y="985">Insurance</text></g>
<g id="b3-e5"><ellipse class="pe" cx="305" cy="988" rx="33" ry="14"/><text class="el" x="305" y="989.3">Income Release</text></g>
<g id="b3-e6"><ellipse class="pe" cx="435" cy="968" rx="33" ry="14"/><text class="el" x="435" y="969.3">Investment</text></g>
<g id="b3-e7"><ellipse class="pe" cx="518.5" cy="927" rx="32.5" ry="14"/><text class="el" x="518.5" y="928.3">Pensions</text></g>
<g id="b3-e8"><ellipse class="be" cx="109" cy="1014.5" rx="32.5" ry="14.5"/><text class="el" x="109" y="1015.8">Life Insurance</text></g>
<g id="b3-e9"><ellipse class="be" cx="180" cy="1016.5" rx="32" ry="14.5"/><text class="el" x="180" y="1017.8">Health Insurance</text></g>
<g id="b3-p1" transform="translate(129,1003)"><rect class="p" width="27" height="27"/><text class="t" style="font-size:1.9px"><tspan x="2" y="4">Would prefer to see as</tspan><tspan x="2" dy="2.8">separate sections - could</tspan><tspan x="2" dy="2.8">then sort into either</tspan><tspan x="2" dy="2.8">health</tspan><tspan x="2" dy="12">-</tspan></text></g>
<g id="b3-e10"><ellipse class="ge" cx="488" cy="1005.5" rx="32" ry="14.5"/><text class="el" style="font-weight:bold" x="488" y="1006.8">FUTURE PLANNING</text></g>
<g id="b3-p2" transform="translate(516,991)"><rect class="p" width="26" height="26"/><text class="t" style="font-size:1.9px"><tspan x="2" y="4">Would want to know the</tspan><tspan x="2" dy="2.8">benefits &amp; details</tspan><tspan x="2" dy="14">-</tspan></text></g>

<g id="b3-label"><rect class="lab" x="38" y="781" width="119" height="24" rx="3"/><text class="labt" x="97.5" y="798.5">Sorting Area V2</text></g>
<g id="b3-unsorted"><rect class="uns" x="566" y="781" width="74.5" height="24" rx="3"/><text class="unst" x="603.3" y="798.5">Unsorted</text></g>
</g>

<!-- ================= BOARD 4 ================= -->
<g id="board4">
<rect class="bgG" x="854" y="62" width="526" height="260"/>
<rect class="bgY" x="1380" y="62" width="175" height="260"/>
<g class="num" id="b4-num"><circle cx="850.5" cy="51" r="10"/><text x="850.5" y="55">4</text></g>
<g id="b4-e1"><ellipse class="pe" cx="957" cy="82.5" rx="31.5" ry="14.5"/><text class="el" x="957" y="83.8">Insurance</text></g>

<g id="b4-i1" transform="translate(915,98)"><rect class="n" width="26.5" height="26.5"/><text class="t"><tspan x="2" y="4.5">Motor Insurance</tspan></text></g>
<g id="b4-i2" transform="translate(915,124.5)"><rect class="n" width="26.5" height="26.5"/><text class="t"><tspan x="2" y="4.5">Pet Insurance</tspan></text></g>
<g id="b4-i3" transform="translate(915,151)"><rect class="n" width="26.5" height="26.5"/><text class="t"><tspan x="2" y="4.5">Home Insurance</tspan></text></g>
<g id="b4-i4" transform="translate(915,177.5)"><rect class="n" width="26.5" height="26.5"/><text class="t"><tspan x="2" y="4.5">Personal</tspan><tspan x="2" dy="3.6">Accident</tspan><tspan x="2" dy="3.6">Insurance</tspan></text></g>
<g id="b4-i5" transform="translate(915,204)"><rect class="n" width="26.5" height="35"/><text class="t"><tspan x="2" y="4.5">Over 50 Life</tspan><tspan x="2" dy="3.6">Insurance</tspan><tspan x="2" dy="7.2">Cover to protect</tspan><tspan x="2" dy="3.6">you for as long as</tspan><tspan x="2" dy="3.6">you live (available</tspan><tspan x="2" dy="3.6">from when you're</tspan><tspan x="2" dy="3.6">50 years old+)</tspan></text></g>
<g id="b4-i6" transform="translate(942,98)"><rect class="n" width="26.5" height="26.5"/><text class="t"><tspan x="2" y="4.5">Life Insurance</tspan></text></g>
<g id="b4-i7" transform="translate(942,124.5)"><rect class="n" width="26.5" height="26.5"/><text class="t"><tspan x="2" y="4.5">Corporate</tspan><tspan x="2" dy="3.6">Medical</tspan><tspan x="2" dy="3.6">Insurance</tspan></text></g>
<g id="b4-i8" transform="translate(942,151)"><rect class="n" width="26.5" height="21"/><text class="t"><tspan x="2" y="4.5">Van Insurance</tspan></text></g>
<g id="b4-i9" transform="translate(942,172)"><rect class="n" width="26.5" height="35"/><text class="t"><tspan x="2" y="4.5">Parent Life Cover</tspan><tspan x="2" dy="7.2">Free life</tspan><tspan x="2" dy="3.6">insurance for 12</tspan><tspan x="2" dy="3.6">months, £15k of</tspan><tspan x="2" dy="3.6">cover for each</tspan><tspan x="2" dy="3.6">parent, for each</tspan><tspan x="2" dy="3.6">child</tspan></text></g>
<g id="b4-i10" transform="translate(942,207)"><rect class="n" width="26.5" height="27"/><text class="t"><tspan x="2" y="4.5">Accidental Death</tspan><tspan x="2" dy="3.6">Insurance</tspan></text></g>
<g id="b4-i11" transform="translate(969,98)"><rect class="n" width="26.5" height="19"/><text class="t"><tspan x="2" y="4.5">Private Medical</tspan><tspan x="2" dy="3.6">Insurance</tspan></text></g>
<g id="b4-i12" transform="translate(969,117)"><rect class="n" width="26.5" height="41"/><text class="t"><tspan x="2" y="4.5">Diagnostic</tspan><tspan x="2" dy="3.6">Insurance</tspan><tspan x="2" dy="7.2">Pays your costs</tspan><tspan x="2" dy="3.6">for getting a</tspan><tspan x="2" dy="3.6">diagnosis,</tspan><tspan x="2" dy="3.6">skipping the</tspan><tspan x="2" dy="3.6">potential NHS</tspan><tspan x="2" dy="3.6">waiting lists.</tspan></text></g>
<g id="b4-i13" transform="translate(969,158)"><rect class="n" width="26.5" height="26"/><text class="t"><tspan x="2" y="4.5">Travel Insurance</tspan></text></g>
<g id="b4-i14" transform="translate(969,184)"><rect class="n" width="26.5" height="27"/><text class="t"><tspan x="2" y="4.5">MultiCar</tspan><tspan x="2" dy="3.6">Insurance</tspan><tspan x="2" dy="7.2">Insurance for</tspan><tspan x="2" dy="3.6">multiple vehicles</tspan></text></g>
<g id="b4-i15" transform="translate(969,211)"><rect class="n" width="26.5" height="27"/><text class="t"><tspan x="2" y="4.5">Whole of Life</tspan><tspan x="2" dy="3.6">Insurance</tspan><tspan x="2" dy="7.2">Covers the whole</tspan><tspan x="2" dy="3.6">of your life and</tspan><tspan x="2" dy="3.6">pays out on death</tspan></text></g>

<g id="b4-v1" transform="translate(1043.5,104)"><rect class="n" width="26.5" height="33"/><text class="t"><tspan x="2" y="4.5">Advised</tspan><tspan x="2" dy="3.6">Investment</tspan><tspan x="2" dy="3.6">Account</tspan><tspan x="2" dy="7.2">Organised</tspan><tspan x="2" dy="3.6">through an</tspan><tspan x="2" dy="3.6">advisor</tspan></text></g>
<g id="b4-v2" transform="translate(1043.5,137)"><rect class="n" width="26.5" height="28"/><text class="t"><tspan x="2" y="4.5">Junior ISA</tspan><tspan x="2" dy="7.2">Individual Savings</tspan><tspan x="2" dy="3.6">Allowance</tspan></text></g>
<g id="b4-v3" transform="translate(1043.5,165)"><rect class="n" width="26.5" height="26"/><text class="t"><tspan x="2" y="4.5">Aviva Investment</tspan><tspan x="2" dy="3.6">Account</tspan></text></g>
<g id="b4-v4" transform="translate(1043.5,191)"><rect class="n" width="26.5" height="39"/><text class="t"><tspan x="2" y="4.5">Advised Stock &amp;</tspan><tspan x="2" dy="3.6">Shares ISA</tspan><tspan x="2" dy="7.2">Individual Savings</tspan><tspan x="2" dy="3.6">Allowance,</tspan><tspan x="2" dy="3.6">organised</tspan><tspan x="2" dy="3.6">through an</tspan><tspan x="2" dy="3.6">advisor</tspan></text></g>
<g id="b4-v5" transform="translate(1070.5,104)"><rect class="n" width="26.5" height="26"/><text class="t"><tspan x="2" y="4.5">Aviva Stock &amp;</tspan><tspan x="2" dy="3.6">Shares ISA</tspan><tspan x="2" dy="7.2">Individual Savings</tspan><tspan x="2" dy="3.6">Allowance</tspan></text></g>
<g id="b4-v6" transform="translate(1070.5,130)"><rect class="n" width="26.5" height="27"/><text class="t"><tspan x="2" y="4.5">Stock &amp; Shares</tspan><tspan x="2" dy="3.6">ISA</tspan><tspan x="2" dy="7.2">Individual Savings</tspan><tspan x="2" dy="3.6">Allowance</tspan></text></g>
<g id="b4-v7" transform="translate(1070.5,157)"><rect class="n" width="26.5" height="26"/><text class="t"><tspan x="2" y="4.5">General</tspan><tspan x="2" dy="3.6">Investment</tspan><tspan x="2" dy="3.6">Account</tspan></text></g>
<g id="b4-v8" transform="translate(1070.5,183)"><rect class="n" width="26.5" height="39"/><text class="t"><tspan x="2" y="4.5">Advised Junior</tspan><tspan x="2" dy="3.6">ISA</tspan><tspan x="2" dy="7.2">Individual Savings</tspan><tspan x="2" dy="3.6">Allowance,</tspan><tspan x="2" dy="3.6">organised</tspan><tspan x="2" dy="3.6">through an</tspan><tspan x="2" dy="3.6">advisor</tspan></text></g>
<g id="b4-v9" transform="translate(1070.5,222)"><rect class="n" width="26.5" height="26"/><text class="t"><tspan x="2" y="4.5">Financial Advice</tspan></text></g>

<g id="b4-p1" transform="translate(1149,97)"><rect class="n" width="26.5" height="26"/><text class="t"><tspan x="2" y="4.5">SIPP</tspan><tspan x="2" dy="7.2">Self Invested</tspan><tspan x="2" dy="3.6">Personal Pension</tspan></text></g>
<g id="b4-p2" transform="translate(1149,123)"><rect class="n" width="26.5" height="27"/><text class="t"><tspan x="2" y="4.5">Advised</tspan><tspan x="2" dy="3.6">Personal/Private</tspan><tspan x="2" dy="3.6">Pension</tspan><tspan x="2" dy="7.2">With an advisor</tspan></text></g>
<g id="b4-p3" transform="translate(1149,150)"><rect class="n" width="26.5" height="27"/><text class="t"><tspan x="2" y="4.5">Workplace</tspan><tspan x="2" dy="3.6">Pension</tspan></text></g>
<g id="b4-p4" transform="translate(1149,177)"><rect class="n" width="26.5" height="26"/><text class="t"><tspan x="2" y="4.5">Find and transfer</tspan><tspan x="2" dy="3.6">my pension</tspan></text></g>
<g id="b4-p5" transform="translate(1149,203)"><rect class="n" width="26.5" height="52"/><text class="t"><tspan x="2" y="4.5">Income</tspan><tspan x="2" dy="3.6">Drawdown</tspan><tspan x="2" dy="7.2">Allows you to</tspan><tspan x="2" dy="3.6">take a pension</tspan><tspan x="2" dy="3.6">income in</tspan><tspan x="2" dy="3.6">retirement whilst</tspan><tspan x="2" dy="3.6">allowing your</tspan><tspan x="2" dy="3.6">pension fund to</tspan><tspan x="2" dy="3.6">continue growing</tspan></text></g>
<g id="b4-p6" transform="translate(1176,97)"><rect class="n" width="26.5" height="48"/><text class="t"><tspan x="2" y="4.5">Pension Annuity</tspan><tspan x="2" dy="7.2">It will give you a</tspan><tspan x="2" dy="3.6">taxable</tspan><tspan x="2" dy="3.6">guaranteed</tspan><tspan x="2" dy="3.6">income for life -</tspan><tspan x="2" dy="3.6">like a regular</tspan><tspan x="2" dy="3.6">salary. Think of it</tspan><tspan x="2" dy="3.6">as insurance for</tspan><tspan x="2" dy="3.6">your retirement</tspan></text></g>
<g id="b4-p7" transform="translate(1176,145)"><rect class="n" width="26.5" height="27"/><text class="t"><tspan x="2" y="4.5">Personal/Private</tspan><tspan x="2" dy="3.6">Pension</tspan></text></g>
<g id="b4-p8" transform="translate(1176,172)"><rect class="n" width="26.5" height="36"/><text class="t"><tspan x="2" y="4.5">Equity Release</tspan><tspan x="2" dy="7.2">It's a way of</tspan><tspan x="2" dy="3.6">taking cash out of</tspan><tspan x="2" dy="3.6">the home you</tspan><tspan x="2" dy="3.6">own, without</tspan><tspan x="2" dy="3.6">having to move</tspan></text></g>

<g id="b4-l1" transform="translate(1267,103)"><rect class="n" width="26.5" height="40"/><text class="t"><tspan x="2" y="4.5">Income</tspan><tspan x="2" dy="3.6">Protection</tspan><tspan x="2" dy="7.2">Helps support</tspan><tspan x="2" dy="3.6">you with a</tspan><tspan x="2" dy="3.6">monthly payment</tspan><tspan x="2" dy="3.6">if you're ill or</tspan><tspan x="2" dy="3.6">injured and can't</tspan><tspan x="2" dy="3.6">work</tspan></text></g>
<g id="b4-l2" transform="translate(1267,143)"><rect class="n" width="26.5" height="80"/><text class="t"><tspan x="2" y="4.5">Lifetime Care</tspan><tspan x="2" dy="7.2">Covering the cost</tspan><tspan x="2" dy="3.6">of your care. If an</tspan><tspan x="2" dy="3.6">illness, condition</tspan><tspan x="2" dy="3.6">or disability</tspan><tspan x="2" dy="3.6">leaves you</tspan><tspan x="2" dy="3.6">needing long-</tspan><tspan x="2" dy="3.6">term care later in</tspan><tspan x="2" dy="3.6">life, and you are</tspan><tspan x="2" dy="3.6">over 60, you</tspan><tspan x="2" dy="3.6">could buy one of</tspan><tspan x="2" dy="3.6">our Lifetime Care</tspan><tspan x="2" dy="3.6">plans with a one-</tspan><tspan x="2" dy="3.6">off lump sum to</tspan><tspan x="2" dy="3.6">help cover the</tspan><tspan x="2" dy="3.6">cost of that care</tspan></text></g>
<g id="b4-l3" transform="translate(1294,105)"><rect class="n" width="26.5" height="28"/><text class="t"><tspan x="2" y="4.5">Critical Illness</tspan><tspan x="2" dy="3.6">cover</tspan><tspan x="2" dy="7.2">Helps protect you</tspan><tspan x="2" dy="3.6">if you become</tspan><tspan x="2" dy="3.6">critically ill</tspan></text></g>
<g id="b4-u1" transform="translate(1412,97)"><rect class="n" width="26.5" height="26"/><text class="t"><tspan x="2" y="4.5">Breakdown Cover</tspan></text></g>

<g id="b4-e2"><ellipse class="pe" cx="1065.5" cy="90" rx="32.5" ry="14"/><text class="el" x="1065.5" y="91.3">Investments</text></g>
<g id="b4-e3"><ellipse class="pe" cx="1175.5" cy="82.5" rx="32.5" ry="14.5"/><text class="el" x="1175.5" y="83.8">Pensions</text></g>
<g id="b4-e4"><ellipse class="pe" cx="1292.5" cy="88.5" rx="32.5" ry="14.5"/><text class="el" x="1292.5" y="89.8">ILLNESS PROTECTION</text></g>
<g id="b4-e5"><ellipse class="ge" cx="1127" cy="276" rx="75" ry="14"/><text class="el" x="1127" y="277.3">Financial</text></g>
<g id="b4-o1" transform="translate(1130,281)"><rect class="o" width="27" height="26"/><text class="t" style="font-size:2.2px"><tspan x="2" y="4.5">Could be</tspan><tspan x="2" dy="3.3">condensed to one</tspan><tspan x="2" dy="3.3">larger group (only</tspan><tspan x="2" dy="3.3">when asked after</tspan><tspan x="2" dy="3.3">sort)</tspan></text></g>

<g id="b4-label"><rect class="lab" x="862" y="70" width="96" height="23" rx="3"/><text class="labt" x="910" y="87">Sorting Area</text></g>
<g id="b4-unsorted"><rect class="uns" x="1390" y="70" width="74" height="23" rx="3"/><text class="unst" x="1427" y="87">Unsorted</text></g>
</g>

<!-- ================= BOARD 5 ================= -->
<g id="board5">
<rect class="bgG" x="861" y="418" width="613" height="398"/>
<rect class="bgY" x="1474" y="418" width="86" height="398"/>
<g class="num" id="b5-num"><circle cx="863" cy="389" r="10"/><text x="863" y="393">5</text></g>
<rect class="dash" x="1091" y="348" width="254" height="278"/>

<g id="b5-a1" transform="translate(866,486)"><rect class="n" width="26" height="27"/><text class="t5"><tspan x="2.3" y="7">Motor</tspan><tspan x="2.3" dy="6.5">Insurance</tspan></text></g>
<g id="b5-a2" transform="translate(892.6,486)"><rect class="n" width="26.5" height="51"/><text class="t5"><tspan x="2.3" y="7">MultiCar</tspan><tspan x="2.3" dy="6.5">Insurance</tspan><tspan class="i" x="2.3" dy="13">Insurance</tspan><tspan class="i" x="2.3" dy="6.5">for</tspan><tspan class="i" x="2.3" dy="6.5">multiple</tspan><tspan class="i" x="2.3" dy="6.5">vehicles</tspan></text></g>
<g id="b5-a3" transform="translate(866,517)"><rect class="n" width="26" height="26"/><text class="t5"><tspan x="2.3" y="7">Van</tspan><tspan x="2.3" dy="6.5">Insurance</tspan></text></g>
<g id="b5-a4" transform="translate(866,551)"><rect class="n" width="26" height="26"/><text class="t5"><tspan x="2.3" y="7">Home</tspan><tspan x="2.3" dy="6.5">Insurance</tspan></text></g>
<g id="b5-a5" transform="translate(866,586)"><rect class="n" width="26" height="27"/><text class="t5"><tspan x="2.3" y="7">Travel</tspan><tspan x="2.3" dy="6.5">Insurance</tspan></text></g>
<g id="b5-a6" transform="translate(864,623)"><rect class="n" width="26" height="27"/><text class="t5"><tspan x="2.3" y="7">Pet</tspan><tspan x="2.3" dy="6.5">Insurance</tspan></text></g>
<g id="b5-a7" transform="translate(866,659)"><rect class="n" width="26" height="27"/><text class="t5"><tspan x="2.3" y="7">Breakd</tspan><tspan x="2.3" dy="6.5">own Cover</tspan></text></g>
<g id="b5-e1"><ellipse class="pe" cx="879" cy="703.5" rx="32.5" ry="14"/><text class="el" x="879" y="701.5">general basic</text><text class="el" x="879" y="708">insurance cover</text></g>
<g id="b5-a8" transform="translate(949.5,551)"><rect class="n" width="26" height="20"/><text class="t5"><tspan x="2.3" y="7">Financial</tspan><tspan x="2.3" dy="6.5">Advice</tspan></text></g>
<g id="b5-e2"><ellipse class="pe" cx="963.5" cy="586" rx="32.5" ry="14"/><text class="el" x="963.5" y="587.3">Finacial Advice</text></g>

<g id="b5-b1" transform="translate(981,697)"><rect class="n" width="26" height="181"/><text class="t5"><tspan x="2.3" y="7">Over 50</tspan><tspan x="2.3" dy="6.5">Life</tspan><tspan x="2.3" dy="6.5">Insurance</tspan><tspan class="i" x="2.3" dy="13">Cover to</tspan><tspan class="i" x="2.3" dy="6.5">protect</tspan><tspan class="i" x="2.3" dy="6.5">you for as</tspan><tspan class="i" x="2.3" dy="6.5">long as</tspan><tspan class="i" x="2.3" dy="6.5">you live</tspan><tspan class="i" x="2.3" dy="6.5">(available</tspan><tspan class="i" x="2.3" dy="6.5">from when</tspan><tspan class="i" x="2.3" dy="6.5">you're 50</tspan><tspan class="i" x="2.3" dy="6.5">years</tspan><tspan class="i" x="2.3" dy="6.5">old+)</tspan><tspan x="2.3" dy="13">Income</tspan><tspan x="2.3" dy="6.5">Protection</tspan><tspan class="i" x="2.3" dy="13">Helps</tspan><tspan class="i" x="2.3" dy="6.5">support</tspan><tspan class="i" x="2.3" dy="6.5">you with a</tspan><tspan class="i" x="2.3" dy="6.5">monthly</tspan><tspan class="i" x="2.3" dy="6.5">payment if</tspan><tspan class="i" x="2.3" dy="6.5">you're ill or</tspan><tspan class="i" x="2.3" dy="6.5">injured</tspan><tspan class="i" x="2.3" dy="6.5">and can't</tspan><tspan class="i" x="2.3" dy="6.5">work.</tspan></text></g>
<g id="b5-b2" transform="translate(1011,613)"><rect class="n" width="26" height="215"/><text class="t5"><tspan x="2.3" y="7">Lifetime</tspan><tspan x="2.3" dy="6.5">Care</tspan><tspan class="i" x="2.3" dy="13">Covering</tspan><tspan class="i" x="2.3" dy="6.5">the cost of</tspan><tspan class="i" x="2.3" dy="6.5">your care.</tspan><tspan class="i" x="2.3" dy="6.5">If an</tspan><tspan class="i" x="2.3" dy="6.5">illness,</tspan><tspan class="i" x="2.3" dy="6.5">condition</tspan><tspan class="i" x="2.3" dy="6.5">or</tspan><tspan class="i" x="2.3" dy="6.5">disability</tspan><tspan class="i" x="2.3" dy="6.5">leaves you</tspan><tspan class="i" x="2.3" dy="6.5">needing</tspan><tspan class="i" x="2.3" dy="6.5">long-term</tspan><tspan class="i" x="2.3" dy="6.5">care later</tspan><tspan class="i" x="2.3" dy="6.5">in life, and</tspan><tspan class="i" x="2.3" dy="6.5">you are</tspan><tspan class="i" x="2.3" dy="6.5">over 60,</tspan><tspan class="i" x="2.3" dy="6.5">you could</tspan><tspan class="i" x="2.3" dy="6.5">buy one of</tspan><tspan class="i" x="2.3" dy="6.5">our</tspan><tspan class="i" x="2.3" dy="6.5">Lifetime</tspan><tspan class="i" x="2.3" dy="6.5">Care plans</tspan><tspan class="i" x="2.3" dy="6.5">with a</tspan><tspan class="i" x="2.3" dy="6.5">one-off</tspan><tspan class="i" x="2.3" dy="6.5">lump sum</tspan><tspan class="i" x="2.3" dy="6.5">to help</tspan><tspan class="i" x="2.3" dy="6.5">cover the</tspan><tspan class="i" x="2.3" dy="6.5">cost of</tspan><tspan class="i" x="2.3" dy="6.5">that care</tspan></text></g>
<g id="b5-b3" transform="translate(1042,592)"><rect class="n" width="26" height="63"/><text class="t5"><tspan x="2.3" y="7">Critical</tspan><tspan x="2.3" dy="6.5">Illness</tspan><tspan x="2.3" dy="6.5">cover</tspan><tspan class="i" x="2.3" dy="13">Helps</tspan><tspan class="i" x="2.3" dy="6.5">protect</tspan><tspan class="i" x="2.3" dy="6.5">you if you</tspan><tspan class="i" x="2.3" dy="6.5">become</tspan><tspan class="i" x="2.3" dy="6.5">critically ill</tspan></text></g>
<g id="b5-b4" transform="translate(1042,659)"><rect class="n" width="26" height="29"/><text class="t5"><tspan x="2.3" y="7">Life</tspan><tspan x="2.3" dy="6.5">Insurance</tspan></text></g>
<g id="b5-b5" transform="translate(1041,690)"><rect class="n" width="26" height="83"/><text class="t5"><tspan x="2.3" y="7">Parent Life</tspan><tspan x="2.3" dy="6.5">Cover</tspan><tspan class="i" x="2.3" dy="13">Free life</tspan><tspan class="i" x="2.3" dy="6.5">insurance</tspan><tspan class="i" x="2.3" dy="6.5">for 12</tspan><tspan class="i" x="2.3" dy="6.5">months,</tspan><tspan class="i" x="2.3" dy="6.5">£15k of</tspan><tspan class="i" x="2.3" dy="6.5">cover for</tspan><tspan class="i" x="2.3" dy="6.5">each</tspan><tspan class="i" x="2.3" dy="6.5">parent, for</tspan><tspan class="i" x="2.3" dy="6.5">each child.</tspan></text></g>
<g id="b5-b6" transform="translate(1072,629)"><rect class="n" width="26" height="90"/><text class="t5"><tspan x="2.3" y="7">Diagnostic</tspan><tspan x="2.3" dy="6.5">Insurance</tspan><tspan class="i" x="2.3" dy="13">Pays your</tspan><tspan class="i" x="2.3" dy="6.5">costs for</tspan><tspan class="i" x="2.3" dy="6.5">getting a</tspan><tspan class="i" x="2.3" dy="6.5">diagnosis,</tspan><tspan class="i" x="2.3" dy="6.5">skipping</tspan><tspan class="i" x="2.3" dy="6.5">the</tspan><tspan class="i" x="2.3" dy="6.5">potential</tspan><tspan class="i" x="2.3" dy="6.5">NHS</tspan><tspan class="i" x="2.3" dy="6.5">waiting</tspan><tspan class="i" x="2.3" dy="6.5">lists.</tspan></text></g>
<g id="b5-b7" transform="translate(1067,723)"><rect class="n" width="26" height="70"/><text class="t5"><tspan x="2.3" y="7">Whole of</tspan><tspan x="2.3" dy="6.5">Life</tspan><tspan x="2.3" dy="6.5">Insurance</tspan><tspan class="i" x="2.3" dy="13">Covers</tspan><tspan class="i" x="2.3" dy="6.5">the whole</tspan><tspan class="i" x="2.3" dy="6.5">of your life</tspan><tspan class="i" x="2.3" dy="6.5">and pays</tspan><tspan class="i" x="2.3" dy="6.5">out on</tspan><tspan class="i" x="2.3" dy="6.5">death</tspan></text></g>
<g id="b5-e3"><ellipse class="pe" cx="1124.5" cy="745" rx="32.5" ry="14"/><text class="el" x="1124.5" y="746.3">Lifetime cover for u</text></g>

<g id="b5-c1" transform="translate(1186,710)"><rect class="n" width="26" height="31"/><text class="t5"><tspan x="2.3" y="7">Private</tspan><tspan x="2.3" dy="6.5">Medical</tspan><tspan x="2.3" dy="6.5">Insurance</tspan></text></g>
<g id="b5-c2" transform="translate(1217,713)"><rect class="n" width="26.5" height="26"/><text class="t5"><tspan x="2.3" y="7">Personal</tspan><tspan x="2.3" dy="6.5">Accident</tspan><tspan x="2.3" dy="6.5">Insurance</tspan></text></g>
<g id="b5-c3" transform="translate(1186,747)"><rect class="n" width="26" height="26"/><text class="t5"><tspan x="2.3" y="7">Corporate</tspan><tspan x="2.3" dy="6.5">Medical</tspan><tspan x="2.3" dy="6.5">Insurance</tspan></text></g>
<g id="b5-c4" transform="translate(1217,745)"><rect class="n" width="26" height="27"/><text class="t5"><tspan x="2.3" y="7">Accidental</tspan><tspan x="2.3" dy="6.5">Death</tspan><tspan x="2.3" dy="6.5">Insurance</tspan></text></g>
<g id="b5-e4"><ellipse class="be" cx="1220.5" cy="792" rx="32.5" ry="14"/><text class="el" x="1220.5" y="790">Prevention is better</text><text class="el" x="1220.5" y="796.5">than cure</text></g>
<g id="b5-y2" transform="translate(1258,760)"><rect class="yw" width="26" height="55"/><text class="t5"><tspan x="2.3" y="7">Would</tspan><tspan x="2.3" dy="6.5">separate</tspan><tspan x="2.3" dy="6.5">these out</tspan><tspan x="2.3" dy="6.5">of Lifetime</tspan><tspan x="2.3" dy="6.5">cover for</tspan><tspan x="2.3" dy="6.5">you (when</tspan><tspan x="2.3" dy="6.5">asked)</tspan><tspan x="2.3" dy="6.5">-</tspan></text></g>

<g id="b5-d1" transform="translate(1094.7,423)"><rect class="n" width="26" height="39"/><text class="t5"><tspan x="2.3" y="7">Junior ISA</tspan><tspan class="i" x="2.3" dy="13">Individual</tspan><tspan class="i" x="2.3" dy="6.5">Savings</tspan><tspan class="i" x="2.3" dy="6.5">Allowance</tspan></text></g>
<g id="b5-d2" transform="translate(1094.7,466)"><rect class="n" width="28" height="42"/><text class="t5"><tspan x="2.3" y="7">Advised</tspan><tspan x="2.3" dy="6.5">Junior ISA</tspan><tspan class="i" x="2.3" dy="13">Individual</tspan><tspan class="i" x="2.3" dy="6.5">Savings</tspan><tspan class="i" x="2.3" dy="6.5">Allowance,</tspan></text></g>
<g id="b5-d3" transform="translate(1129,443)"><rect class="n" width="27" height="51"/><text class="t5"><tspan x="2.3" y="7">Advised</tspan><tspan x="2.3" dy="6.5">Investment</tspan><tspan x="2.3" dy="6.5">Account</tspan><tspan class="i" x="2.3" dy="13">Organised</tspan><tspan class="i" x="2.3" dy="6.5">through an</tspan><tspan class="i" x="2.3" dy="6.5">advisor</tspan></text></g>
<g id="b5-d4" transform="translate(1160,417)"><rect class="n" width="26" height="31"/><text class="t5"><tspan x="2.3" y="7">General</tspan><tspan x="2.3" dy="6.5">Investm</tspan><tspan x="2.3" dy="6.5">ent</tspan><tspan x="2.3" dy="6.5">Account</tspan></text></g>
<g id="b5-d5" transform="translate(1160,452)"><rect class="n" width="26" height="51"/><text class="t5"><tspan x="2.3" y="7">Aviva</tspan><tspan x="2.3" dy="6.5">Stock &amp;</tspan><tspan x="2.3" dy="6.5">Shares ISA</tspan><tspan class="i" x="2.3" dy="13">Individual</tspan><tspan class="i" x="2.3" dy="6.5">Savings</tspan><tspan class="i" x="2.3" dy="6.5">Allowance</tspan></text></g>
<g id="b5-d6" transform="translate(1160,503)"><rect class="n" width="26" height="43"/><text class="t5"><tspan x="2.3" y="7">Stock &amp;</tspan><tspan x="2.3" dy="6.5">Shares ISA</tspan><tspan class="i" x="2.3" dy="13">Individual</tspan><tspan class="i" x="2.3" dy="6.5">Savings</tspan><tspan class="i" x="2.3" dy="6.5">Allowance</tspan></text></g>
<g id="b5-d7" transform="translate(1159,547)"><rect class="n" width="27" height="70"/><text class="t5"><tspan x="2.3" y="7">Advised</tspan><tspan x="2.3" dy="6.5">Stock &amp;</tspan><tspan x="2.3" dy="6.5">Shares ISA</tspan><tspan class="i" x="2.3" dy="13">Individual</tspan><tspan class="i" x="2.3" dy="6.5">Savings</tspan><tspan class="i" x="2.3" dy="6.5">Allowance,</tspan><tspan class="i" x="2.3" dy="6.5">organised</tspan><tspan class="i" x="2.3" dy="6.5">through an</tspan><tspan class="i" x="2.3" dy="6.5">advisor</tspan></text></g>
<g id="b5-d8" transform="translate(1201,362)"><rect class="n" width="26" height="129"/><text class="t5"><tspan x="2.3" y="7">Pension</tspan><tspan x="2.3" dy="6.5">Annuity</tspan><tspan class="i" x="2.3" dy="13">It will give</tspan><tspan class="i" x="2.3" dy="6.5">you a</tspan><tspan class="i" x="2.3" dy="6.5">taxable</tspan><tspan class="i" x="2.3" dy="6.5">guarant</tspan><tspan class="i" x="2.3" dy="6.5">eed</tspan><tspan class="i" x="2.3" dy="6.5">income for</tspan><tspan class="i" x="2.3" dy="6.5">life - like a</tspan><tspan class="i" x="2.3" dy="6.5">regular</tspan><tspan class="i" x="2.3" dy="6.5">salary.</tspan><tspan class="i" x="2.3" dy="6.5">Think of it</tspan><tspan class="i" x="2.3" dy="6.5">as</tspan><tspan class="i" x="2.3" dy="6.5">insurance</tspan><tspan class="i" x="2.3" dy="6.5">for your</tspan><tspan class="i" x="2.3" dy="6.5">retirement</tspan></text></g>
<g id="b5-d9" transform="translate(1192,494)"><rect class="n" width="26.5" height="103"/><text class="t5"><tspan x="2.3" y="7">Income</tspan><tspan x="2.3" dy="6.5">Drawdown</tspan><tspan class="i" x="2.3" dy="13">Allows you</tspan><tspan class="i" x="2.3" dy="6.5">to take a</tspan><tspan class="i" x="2.3" dy="6.5">pension</tspan><tspan class="i" x="2.3" dy="6.5">income in</tspan><tspan class="i" x="2.3" dy="6.5">retirement</tspan><tspan class="i" x="2.3" dy="6.5">whilst</tspan><tspan class="i" x="2.3" dy="6.5">allowing</tspan><tspan class="i" x="2.3" dy="6.5">your</tspan><tspan class="i" x="2.3" dy="6.5">pension</tspan><tspan class="i" x="2.3" dy="6.5">fund to</tspan><tspan class="i" x="2.3" dy="6.5">continue</tspan><tspan class="i" x="2.3" dy="6.5">growing</tspan></text></g>
<g id="b5-e5"><ellipse class="pe" cx="1114" cy="522" rx="33" ry="14"/><text class="el" x="1114" y="523.3">Junior ISA</text></g>
<g id="b5-e6"><ellipse class="pe" cx="1204" cy="609" rx="32.5" ry="14"/><text class="el" x="1204" y="610.3">Investments</text></g>
<g id="b5-e7"><ellipse class="ge" cx="1299" cy="373" rx="32.5" ry="14"/><text class="el" x="1299" y="374.3">Grow your money</text></g>
<g id="b5-y1" transform="translate(1314,378)"><rect class="yw" width="27" height="42"/><text class="t5"><tspan x="2.3" y="7">Would</tspan><tspan x="2.3" dy="6.5">condense</tspan><tspan x="2.3" dy="6.5">- only</tspan><tspan x="2.3" dy="6.5">when</tspan><tspan x="2.3" dy="6.5">asked.</tspan><tspan x="2.3" dy="6.5">-</tspan></text></g>
<g id="b5-e8"><ellipse class="pe" cx="1270" cy="443" rx="32.5" ry="14"/><text class="el" x="1270" y="444.3">Pensions</text></g>
<g id="b5-d10" transform="translate(1227,458)"><rect class="n" width="26" height="44"/><text class="t5"><tspan x="2.3" y="7">SIPP</tspan><tspan class="i" x="2.3" dy="13">Self</tspan><tspan class="i" x="2.3" dy="6.5">Invested</tspan><tspan class="i" x="2.3" dy="6.5">Personal</tspan><tspan class="i" x="2.3" dy="6.5">Pension</tspan></text></g>
<g id="b5-d11" transform="translate(1253.6,458)"><rect class="n" width="26" height="26"/><text class="t5"><tspan x="2.3" y="7">Workplace</tspan><tspan x="2.3" dy="6.5">Pension</tspan></text></g>
<g id="b5-d12" transform="translate(1253.6,486)"><rect class="n" width="26" height="27"/><text class="t5"><tspan x="2.3" y="7">Personal/</tspan><tspan x="2.3" dy="6.5">Private</tspan><tspan x="2.3" dy="6.5">Pension</tspan></text></g>
<g id="b5-d13" transform="translate(1281,486)"><rect class="n" width="27" height="51"/><text class="t5"><tspan x="2.3" y="7">Advised</tspan><tspan x="2.3" dy="6.5">Personal/</tspan><tspan x="2.3" dy="6.5">Private</tspan><tspan x="2.3" dy="6.5">Pension</tspan><tspan class="i" x="2.3" dy="13">With an</tspan><tspan class="i" x="2.3" dy="6.5">advisor</tspan></text></g>
<g id="b5-d14" transform="translate(1311.5,486)"><rect class="n" width="26" height="44"/><text class="t5"><tspan x="2.3" y="7">Find and</tspan><tspan x="2.3" dy="6.5">transfer</tspan><tspan x="2.3" dy="6.5">my</tspan><tspan x="2.3" dy="6.5">pension</tspan></text></g>
<g id="b5-e9"><ellipse class="pe" cx="1395" cy="467" rx="32.5" ry="14"/><text class="el" x="1395" y="468.3">Help from your home</text></g>
<g id="b5-d15" transform="translate(1376.5,484)"><rect class="n" width="26" height="90"/><text class="t5"><tspan x="2.3" y="7">Equity</tspan><tspan x="2.3" dy="6.5">Release</tspan><tspan class="i" x="2.3" dy="13">It's a way</tspan><tspan class="i" x="2.3" dy="6.5">of taking</tspan><tspan class="i" x="2.3" dy="6.5">cash out</tspan><tspan class="i" x="2.3" dy="6.5">of the</tspan><tspan class="i" x="2.3" dy="6.5">home you</tspan><tspan class="i" x="2.3" dy="6.5">own,</tspan><tspan class="i" x="2.3" dy="6.5">without</tspan><tspan class="i" x="2.3" dy="6.5">having to</tspan><tspan class="i" x="2.3" dy="6.5">move</tspan></text></g>

<g id="b5-label"><rect class="lab" x="869" y="426" width="96" height="23" rx="3"/><text class="labt" x="917" y="443">Sorting Area</text></g>
<g id="b5-unsorted"><rect class="uns" x="1480" y="426" width="75" height="23" rx="3"/><text class="unst" x="1517.5" y="443">Unsorted</text></g>
</g>
</svg>
